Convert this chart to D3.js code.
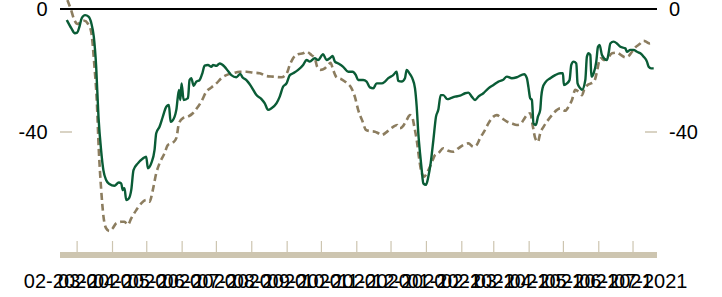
<!DOCTYPE html>
<html><head><meta charset="utf-8">
<script src="https://cdn.jsdelivr.net/npm/d3@7"></script>
<style>body{margin:0;background:#fff}svg{display:block}text{font-family:"Liberation Sans",Arial,sans-serif;font-size:20px;fill:#000}</style>
</head><body><svg id="c" width="722" height="297"></svg>
<script>
// Day offsets from 2020-03-01 and values for each series
const solidDays = [-9,-5,-2,0,2,4,7,10,12.5,14.6,16.7,18.7,21,23,25.4,28.3,32.7,36.5,38.6,40,41.5,43,45.3,47.4,49.4,53.2,57.6,60.5,62,64.9,67.8,69.3,72.2,75.1,78.1,80.4,81.9,85.4,86.9,89.2,90.4,91.5,93.3,97.1,98.5,100,102.1,104.4,107.3,109.7,111.7,114.6,117.6,119,122,124.9,129.3,132.2,135.1,139.5,143,144.8,148.3,152.7,157.1,161.5,164.4,167.3,170.2,174.6,177.5,180.4,183.4,186.3,189.2,193.6,198,201,203.8,208.2,211.1,215.5,218.5,221.4,223.8,225.8,228.7,233.1,237.5,241.3,244.2,246.2,250.6,253.6,256.5,259.4,262.4,266.8,269.7,272.6,276.9,279.9,281.3,284.3,287.2,288.7,290.7,293.6,296,297.5,298.9,300.4,301.9,303.3,305.6,307.7,309.7,312.1,314.4,316.4,318.5,320.8,324.3,327.3,331.1,335.5,339.9,342.8,345.7,348.6,351.5,355.9,360.3,364.7,369.1,372.9,376.5,380.8,385.2,391.6,394,395.4,396.9,398.4,399.8,401.9,403.7,405.7,406.6,407.7,410.7,414.5,418.8,423.2,425.6,426.4,429.1,431.4,432.9,434.9,437.3,438.4,440.8,442.3,445.2,446.6,448.1,449.6,450.5,452.5,454.8,456.3,457.7,459.8,464.2,465.6,467.1,470,472.9,475.9,480.3,481.7,484.6,487.5,490.5,493.4,496.3,499.2,500.7,502.8,505.1];
const solidValues = [-3.6,-6.3,-7.9,-7.7,-5.8,-3.0,-2.0,-2.5,-4.7,-9.0,-18.8,-35.0,-45.9,-52.4,-55.6,-56.9,-57.5,-56.4,-56.7,-58.9,-58.3,-62.1,-61.6,-58.9,-52.4,-50.2,-48.6,-48.0,-51.8,-50.2,-45.9,-40.4,-38.3,-35.0,-31.8,-31.2,-36.7,-35.0,-32.8,-26.3,-29.6,-24.2,-29.6,-29.0,-23.1,-22.5,-25.0,-23.6,-23.1,-20.9,-18.4,-18.2,-18.8,-18.2,-18.5,-17.7,-18.8,-20.2,-21.5,-22.2,-21.1,-22.2,-23.1,-25.3,-28.0,-29.3,-30.7,-32.8,-32.3,-30.7,-28.5,-25.3,-24.2,-21.5,-20.9,-19.8,-18.2,-16.6,-17.1,-16.0,-16.6,-14.7,-16.6,-16.0,-15.3,-17.1,-17.7,-18.8,-20.4,-20.4,-21.5,-23.1,-23.1,-23.6,-25.5,-25.8,-24.2,-24.2,-23.6,-22.5,-21.5,-20.4,-23.4,-23.6,-22.5,-19.8,-20.7,-22.5,-25.8,-31.8,-40.4,-46.9,-52.4,-56.7,-57.2,-54.5,-50.2,-42.6,-35.0,-32.8,-28.0,-28.0,-29.3,-29.0,-28.5,-28.2,-27.4,-27.2,-28.5,-29.6,-28.5,-27.4,-25.8,-24.7,-23.6,-23.1,-22.0,-22.5,-22.2,-21.2,-22.5,-25.5,-29.0,-29.6,-37.2,-37.7,-35.0,-32.8,-28.5,-25.8,-23.6,-22.5,-21.5,-20.9,-20.9,-24.7,-24.2,-23.1,-18.2,-17.1,-17.7,-24.2,-25.8,-26.3,-23.1,-15.5,-14.4,-15.0,-22.0,-20.9,-17.1,-12.3,-11.7,-15.0,-16.6,-14.4,-11.2,-10.6,-11.2,-12.3,-12.8,-13.9,-13.3,-13.3,-13.9,-14.4,-15.5,-17.1,-18.8,-19.3,-19.3];
const dashedDays = [-8.5,-5.3,-2.4,0.5,3.5,6.4,9.3,12.3,15.2,17.2,19,21.1,23.1,25.4,28.3,31.2,34.2,38.6,41.5,44.4,47.4,51.8,56.2,60.5,63.4,66.3,69.3,72.2,76.6,79.5,83.9,86.9,89.2,92.7,97.1,101.4,104.9,108.8,113.2,117.6,122,126.4,130.7,136.5,142.4,148.3,154.1,160,165.8,171.6,179,183.4,186.3,189.2,193.6,198,201,205.3,208.2,210.3,213.2,217,219.9,222,224.3,227.3,231.7,236,240.4,243.3,246.2,250.1,253,256.5,260.9,263.8,266.8,270.5,274,276.9,280.4,282.8,285.7,288.7,291.6,293.6,295.4,297.5,299.8,301.9,304.2,306.3,309.1,311.5,313.5,316.4,320.8,325.2,329.6,334,338.4,342.8,347.1,350.1,353,356.5,360.3,364.7,367.6,372,376.5,380.8,385.2,388.1,391,394,396.9,399.3,401.3,403.7,405.7,408.6,411.6,416,420.4,423.2,427.6,430.5,433.5,436.4,439.3,442.3,444.3,447.2,450.2,453.1,455.4,457.2,458.9,461.9,464.8,468.6,473,476.5,480.3,483.2,486.1,489,492.8,496.3,498.7,501.6,505.1];
const dashedValues = [2.9,-0.3,-3.6,-4.9,-4.1,-3.8,-4.7,-7.4,-18.8,-29.6,-45.9,-58.9,-67.5,-71.3,-72.2,-71.3,-69.7,-69.2,-69.2,-70.2,-68.1,-65.4,-63.2,-62.1,-62.7,-58.9,-53.4,-50.2,-46.9,-44.2,-43.5,-42.0,-37.2,-35.5,-35.0,-33.9,-32.3,-30.1,-26.9,-25.5,-24.2,-22.5,-21.5,-20.9,-20.4,-20.4,-20.7,-20.9,-21.8,-22.0,-22.2,-21.1,-18.2,-16.0,-14.7,-14.4,-13.9,-15.0,-16.0,-18.8,-19.8,-19.3,-18.2,-17.5,-19.8,-22.2,-22.9,-24.0,-25.8,-28.5,-32.8,-36.6,-39.3,-39.7,-39.9,-40.4,-41.0,-40.2,-39.1,-38.3,-37.7,-38.8,-38.0,-36.1,-34.5,-35.2,-38.3,-42.6,-49.1,-53.4,-54.5,-53.4,-51.3,-49.1,-47.5,-46.9,-45.3,-46.1,-46.4,-45.3,-44.2,-43.7,-44.8,-44.2,-42.0,-39.9,-37.2,-35.0,-34.5,-35.5,-36.6,-37.2,-37.7,-37.5,-36.1,-34.5,-33.9,-38.3,-42.0,-43.2,-40.4,-38.3,-36.6,-34.5,-32.8,-32.3,-33.1,-31.8,-29.6,-26.3,-26.9,-28.0,-26.1,-24.7,-24.2,-23.4,-20.4,-17.1,-16.0,-16.6,-16.0,-14.4,-14.2,-15.0,-15.7,-15.3,-13.9,-12.5,-11.4,-10.3,-10.7,-11.2,-10.8];
const yTickValues = [0, -40];
const monthLabelsFrom = "2020-02", monthLabelsTo = "2021-07";

const base = new Date(2020, 2, 1);
const toDate = d => new Date(base.getTime() + d * 864e5);
const solid = solidDays.map((d, i) => ({date: toDate(d), value: solidValues[i]}));
const dashed = dashedDays.map((d, i) => ({date: toDate(d), value: dashedValues[i]}));

const svg = d3.select("#c");
const x = d3.scaleTime().domain([new Date(2020, 1, 15), new Date(2021, 6, 22)]).range([60, 657]);
const y = d3.scaleLinear().domain([0, -40]).range([9, 132]);
const beige = "#cdc5b0";

// bottom band and ticks
svg.append("rect").attr("x", 60).attr("y", 252).attr("width", 597).attr("height", 6).attr("fill", beige);
const monthStarts = d3.timeMonth.range(new Date(2020, 2, 1), new Date(2021, 6, 2));
svg.selectAll(".mt").data(monthStarts).join("line")
  .attr("x1", d => x(d)).attr("x2", d => x(d)).attr("y1", 241).attr("y2", 252)
  .attr("stroke", beige).attr("stroke-width", 1.2);
const pf = d3.timeParse("%Y-%m");
const labelMonths = d3.timeMonth.range(pf(monthLabelsFrom), d3.timeMonth.offset(pf(monthLabelsTo), 1));
const fmt = d3.timeFormat("%m-%Y");
svg.selectAll(".ml").data(labelMonths).join("text")
  .attr("x", d => (x(d) + x(d3.timeMonth.offset(d, 1))) / 2).attr("y", 288)
  .attr("text-anchor", "middle").text(d => fmt(d));

// y axis ticks/labels both sides
yTickValues.forEach(v => {
  svg.append("text").attr("x", 47.5).attr("y", y(v)).attr("dy", "0.36em").attr("text-anchor", "end").text(v);
  svg.append("text").attr("x", 669).attr("y", y(v)).attr("dy", "0.36em").attr("text-anchor", "start").text(v);
  if (v !== 0) {
    svg.append("line").attr("x1", 60).attr("x2", 72).attr("y1", y(v)).attr("y2", y(v)).attr("stroke", beige).attr("stroke-width", 1.5);
    svg.append("line").attr("x1", 645).attr("x2", 657).attr("y1", y(v)).attr("y2", y(v)).attr("stroke", beige).attr("stroke-width", 1.5);
  }
});
svg.append("line").attr("x1", 60).attr("x2", 657).attr("y1", y(0)).attr("y2", y(0)).attr("stroke", "#000").attr("stroke-width", 2);

const line = d3.line().x(d => x(d.date)).y(d => y(d.value)).curve(d3.curveMonotoneX);
svg.append("path").datum(dashed).attr("d", line).attr("fill", "none")
  .attr("stroke", "#8c7d5f").attr("stroke-width", 2.6).attr("stroke-dasharray", "7,4");
svg.append("path").datum(solid).attr("d", line).attr("fill", "none")
  .attr("stroke", "#0a5c36").attr("stroke-width", 2.4).attr("stroke-linejoin", "round");
</script></body></html>
